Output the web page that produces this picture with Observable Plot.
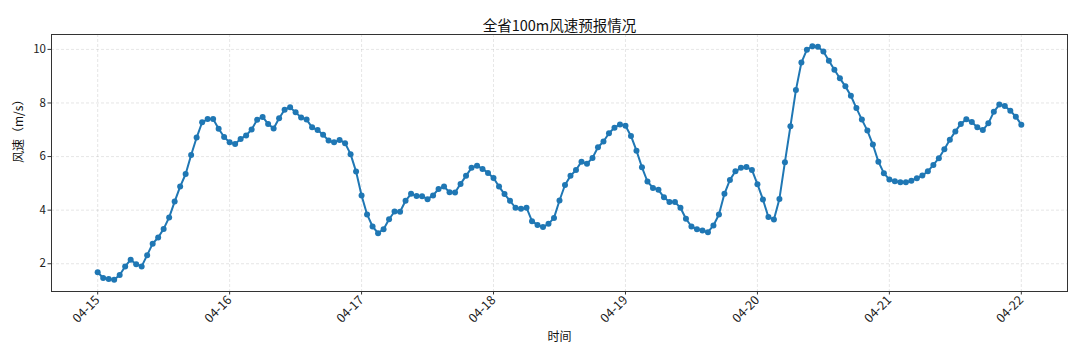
<!DOCTYPE html>
<html><head><meta charset="utf-8">
<script src="https://cdn.jsdelivr.net/npm/d3@7"></script>
<script src="https://cdn.jsdelivr.net/npm/@observablehq/plot@0.6"></script>
<style>body{margin:0;background:#fff}</style>
</head><body><div id="chart"></div>
<script>
const titleText = "全省100m风速预报情况";
const xLabel = "时间";
const yLabel = "风速（m/s）";
const startTime = "2024-04-15T00:00:00Z"; // hourly forecast start
const dayTicks = ["04-15","04-16","04-17","04-18","04-19","04-20","04-21","04-22"];
const yTicks = [2, 4, 6, 8, 10];
// hourly 100m wind speed (m/s), 04-15 00:00 .. 04-22 00:00
const windSpeed = [
  1.68,1.47,1.43,1.40,1.58,1.90,2.15,1.98,1.90,2.32,2.75,2.98,3.30,3.73,4.32,4.88,5.35,6.06,6.71,7.28,7.40,7.40,7.04,6.73,
  6.53,6.47,6.66,6.79,7.01,7.37,7.48,7.22,7.05,7.43,7.75,7.84,7.65,7.46,7.38,7.09,6.99,6.81,6.60,6.53,6.62,6.50,6.09,5.44,
  4.55,3.84,3.39,3.14,3.29,3.66,3.95,3.94,4.35,4.61,4.53,4.52,4.41,4.55,4.79,4.88,4.67,4.66,4.98,5.28,5.58,5.66,5.54,5.39,
  5.20,4.88,4.60,4.35,4.09,4.05,4.09,3.59,3.45,3.37,3.49,3.71,4.36,4.94,5.28,5.50,5.81,5.73,5.95,6.35,6.56,6.87,7.08,7.20,
  7.15,6.77,6.22,5.60,5.07,4.83,4.76,4.48,4.30,4.30,4.09,3.68,3.39,3.29,3.24,3.18,3.43,3.84,4.61,5.13,5.45,5.58,5.61,5.50,
  4.97,4.40,3.74,3.65,4.42,5.79,7.13,8.48,9.51,9.99,10.12,10.10,9.92,9.58,9.24,8.92,8.62,8.27,7.81,7.38,6.97,6.45,5.81,5.38,
  5.14,5.08,5.04,5.04,5.10,5.19,5.29,5.45,5.69,5.94,6.27,6.63,6.94,7.22,7.39,7.29,7.09,6.99,7.24,7.67,7.94,7.89,7.71,7.49,7.19
];

const HOUR = 3600e3;
const t0 = Date.parse(startTime);
const data = windSpeed.map((v, i) => ({time: new Date(t0 + i * HOUR), speed: v}));
const tickDates = dayTicks.map(d => new Date(`2024-${d}T00:00:00Z`));
const tFirst = +data[0].time, tLast = +data[data.length - 1].time;
const pad = (tLast - tFirst) * 0.05;
const vMin = d3.min(windSpeed), vMax = d3.max(windSpeed);
const vPad = (vMax - vMin) * 0.05;

const font = '"Noto Sans CJK SC", "Noto Sans", sans-serif';
const grid = {stroke: "#b0b0b0", strokeOpacity: 0.4, strokeDasharray: "3,2", strokeWidth: 0.8};

const chart = Plot.plot({
  width: 1080, height: 360,
  marginLeft: 51, marginRight: 13, marginTop: 34, marginBottom: 69,
  style: {fontFamily: font, fontSize: "11px", color: "#222", background: "#fff"},
  x: {type: "utc", domain: [new Date(tFirst - pad), new Date(tLast + pad)]},
  y: {domain: [vMin - vPad, vMax + vPad]},
  marks: [
    Plot.ruleX(tickDates, grid),
    Plot.ruleY(yTicks, grid),
    Plot.line(data, {x: "time", y: "speed", stroke: "#1f77b4", strokeWidth: 2}),
    Plot.dot(data, {x: "time", y: "speed", fill: "#1f77b4", r: 3}),
    Plot.frame({stroke: "#333", strokeWidth: 1}),
    Plot.axisX({ticks: tickDates, tickFormat: d => d3.utcFormat("%m-%d")(d), tickRotate: -45, tickSize: 3.5, tickPadding: 3, label: null, stroke: "#333", fontSize: 12.5}),
    Plot.axisY({ticks: yTicks, tickSize: 3.5, tickPadding: 2, label: null, stroke: "#333", fontSize: 11.5}),
    Plot.text([titleText], {text: d => d, frameAnchor: "top", dy: -14, fontSize: 14.5, fill: "#111"}),
    Plot.text([xLabel], {text: d => d, frameAnchor: "bottom", dy: 49, fontSize: 12, fill: "#111"}),
    Plot.text([yLabel], {text: d => d, frameAnchor: "left", dx: -32, rotate: -90, fontSize: 12, fill: "#111"})
  ]
});
document.getElementById("chart").append(chart);
</script>
</body></html>
